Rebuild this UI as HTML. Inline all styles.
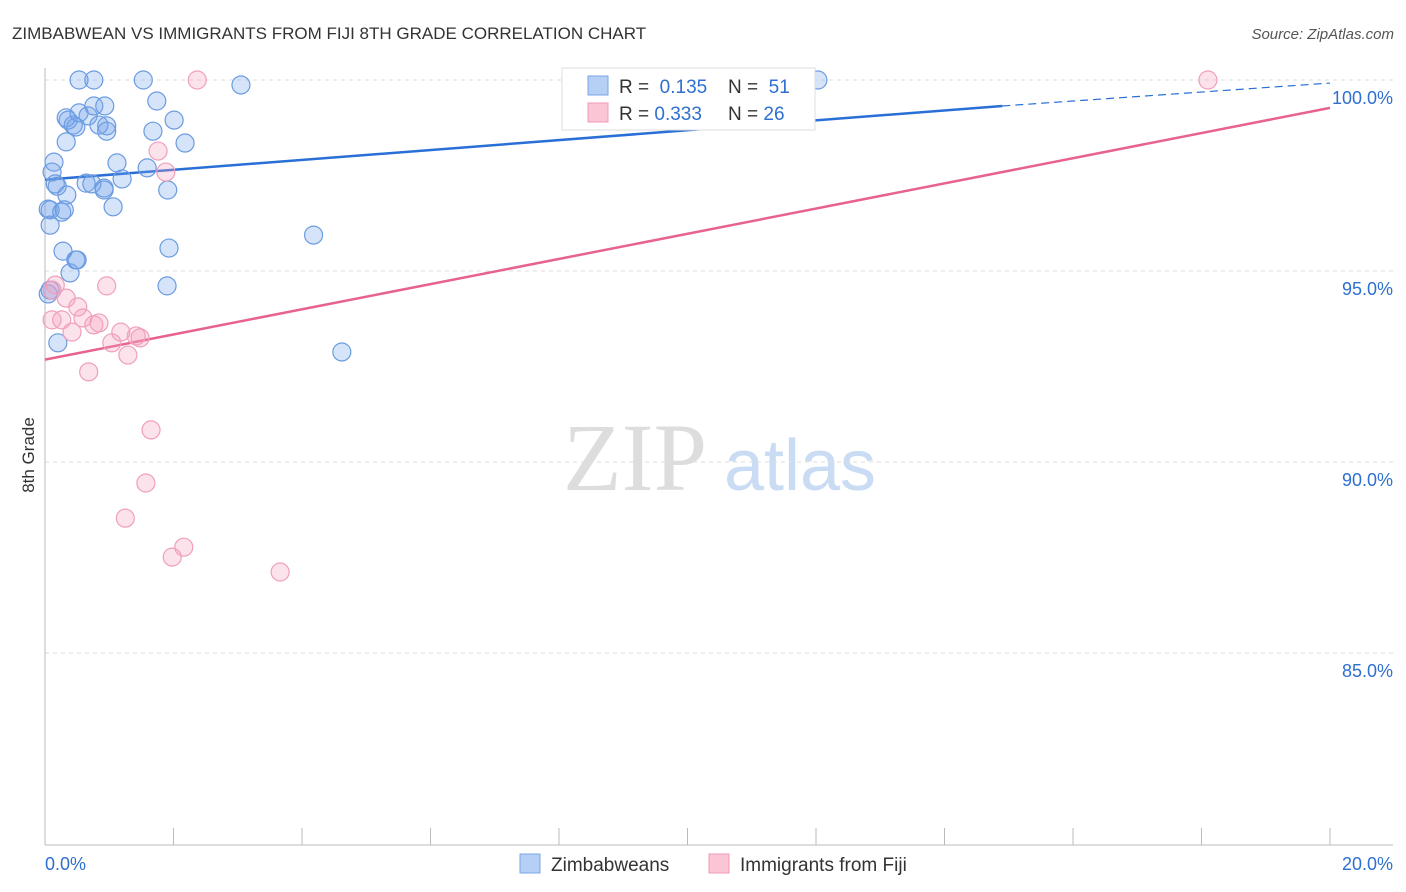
<!DOCTYPE html>
<html><head><meta charset="utf-8"><style>
body{margin:0;background:#fff;font-family:"Liberation Sans",sans-serif;}
svg{display:block}
</style></head><body>
<svg id="chart" width="1406" height="892" xmlns="http://www.w3.org/2000/svg">
<text x="12" y="39" font-size="17" fill="#333">ZIMBABWEAN VS IMMIGRANTS FROM FIJI 8TH GRADE CORRELATION CHART</text>
<text x="1394" y="39" font-size="15" fill="#555" font-style="italic" text-anchor="end">Source: ZipAtlas.com</text>
<g>
<text x="635" y="490" font-size="96" fill="#ddd" font-family="Liberation Serif,serif" text-anchor="middle">ZIP</text>
<text x="800" y="490" font-size="72" fill="#c9dcf3" text-anchor="middle">atlas</text>
</g>
<g id="grid"></g>
<g id="axes"></g>
<g id="lines"></g>
<g id="points"></g>
<text transform="translate(34,455) rotate(-90)" font-size="17" fill="#333" text-anchor="middle">8th Grade</text>
<g>
<rect x="562" y="68" width="253" height="62" fill="#fff" stroke="#ddd"/>
<rect x="588" y="76" width="20" height="19" fill="#b6d0f5" stroke="#7aa6e6"/>
<rect x="588" y="103" width="20" height="19" fill="#fbc5d5" stroke="#f09ab6"/>
<text x="619" y="93" font-size="19" fill="#333">R = <tspan fill="#2e6fd0">&#160;0.135</tspan></text>
<text x="728" y="93" font-size="19" fill="#333">N = <tspan fill="#2e6fd0">&#160;51</tspan></text>
<text x="619" y="120" font-size="19" fill="#333">R = <tspan fill="#2e6fd0">0.333</tspan></text>
<text x="728" y="120" font-size="19" fill="#333">N = <tspan fill="#2e6fd0">26</tspan></text>
</g>
<g>
<rect x="520" y="854" width="20" height="19" fill="#b6d0f5" stroke="#7aa6e6"/>
<text x="551" y="871" font-size="19" fill="#333">Zimbabweans</text>
<rect x="709" y="854" width="20" height="19" fill="#fbc5d5" stroke="#f09ab6"/>
<text x="740" y="871" font-size="19" fill="#333">Immigrants from Fiji</text>
</g>
</svg>
<script>
const yTicks=[100,95,90,85];
const yTickLabels=["100.0%","95.0%","90.0%","85.0%"];
const xTickLabels=["0.0%","20.0%"];
const blueX=[0.53,0.76,1.53,3.05,12.03,1.74,0.33,0.36,0.44,0.48,0.53,0.67,0.76,0.93,0.96,0.84,0.96,1.68,2.01,2.18,0.33,0.14,1.12,1.59,0.11,0.16,0.19,0.34,0.64,0.73,0.92,1.20,1.06,1.91,0.05,0.08,0.26,0.30,0.08,0.28,0.39,0.48,0.50,1.93,4.18,0.20,1.90,0.08,4.62,0.05,0.92];
const blueY=[100.0,100.0,100.0,99.87,100.0,99.45,99.01,98.95,98.82,98.77,99.14,99.06,99.32,99.32,98.80,98.82,98.66,98.66,98.95,98.35,98.38,97.85,97.83,97.70,97.59,97.28,97.22,96.99,97.30,97.28,97.17,97.41,96.68,97.12,96.62,96.60,96.54,96.60,96.20,95.52,94.95,95.29,95.29,95.60,95.94,93.12,94.61,94.50,92.88,94.40,97.12];
const pinkX=[2.37,18.10,1.76,1.88,0.11,0.16,0.33,0.51,0.59,0.26,0.11,0.42,0.76,0.84,0.96,1.18,1.42,1.48,1.04,1.29,0.68,1.65,1.57,1.25,2.16,1.98,3.66];
const pinkY=[100.0,100.0,98.14,97.59,94.50,94.63,94.29,94.06,93.77,93.72,93.72,93.40,93.59,93.64,94.61,93.40,93.30,93.25,93.12,92.80,92.36,90.84,89.45,88.53,87.77,87.51,87.12];
const blueTrend=[97.39,99.32,99.92]; // at x=0, 14.9, 20
const blueTrendX=[0,14.9,20];
const pinkTrend=[92.68,99.27];
const pinkTrendX=[0,20];
const NS="http://www.w3.org/2000/svg";
const X0=45,X1=1330,Y100=80,PX_PER=38.2;
const sx=v=>X0+(v/20)*(X1-X0);
const sy=v=>Y100+(100-v)*PX_PER;
function mk(tag,attrs,parent){const e=document.createElementNS(NS,tag);for(const k in attrs)e.setAttribute(k,attrs[k]);parent.appendChild(e);return e;}
const grid=document.getElementById('grid'),axes=document.getElementById('axes'),lines=document.getElementById('lines'),pts=document.getElementById('points');
yTicks.forEach((t,i)=>{
 const l=mk('line',{x1:X0,x2:1393,y1:sy(t),y2:sy(t),stroke:'#ddd','stroke-dasharray':'4,4'},grid);
 
 
 const tx=mk('text',{x:1393,y:sy(t)+24,'font-size':18,fill:'#2e6fd0','text-anchor':'end'},grid);
 tx.textContent=yTickLabels[i];
 
 
});
const ax=mk('line',{x1:X0,x2:1393,y1:845,y2:845,stroke:'#bbb'},axes);


const ay=mk('line',{x1:X0,x2:X0,y1:68,y2:845,stroke:'#bbb'},axes);


for(let i=0;i<=10;i++){
 const t=mk('line',{x1:sx(i*2),x2:sx(i*2),y1:828,y2:845,stroke:'#bbb'},axes);
 
 
}
[[0,'start',45],[20,'end',1393]].forEach((d,i)=>{
 const tx=mk('text',{x:d[2],y:870,'font-size':18,fill:'#2e6fd0','text-anchor':d[1]},axes);
 tx.textContent=xTickLabels[i];
 
 
});
function dot(x,y,fill,stroke,name){
 const c=mk('circle',{cx:sx(x),cy:sy(y),r:9,fill:fill,stroke:stroke,'stroke-width':1.2},pts);
 
 
}
blueX.forEach((x,i)=>dot(x,blueY[i],'rgba(120,165,235,0.3)','#6b9be0','point-zimbabweans'));
pinkX.forEach((x,i)=>dot(x,pinkY[i],'rgba(245,160,190,0.3)','#ef9fbc','point-fiji'));
const b1=mk('line',{x1:sx(blueTrendX[0]),y1:sy(blueTrend[0]),x2:sx(blueTrendX[1]),y2:sy(blueTrend[1]),stroke:'#2a6fd6','stroke-width':2.5},lines);


const b2=mk('line',{x1:sx(blueTrendX[1]),y1:sy(blueTrend[1]),x2:sx(blueTrendX[2]),y2:sy(blueTrend[2]),stroke:'#2a6fd6','stroke-width':1.2,'stroke-dasharray':'8,5'},lines);


const p1=mk('line',{x1:sx(pinkTrendX[0]),y1:sy(pinkTrend[0]),x2:sx(pinkTrendX[1]),y2:sy(pinkTrend[1]),stroke:'#e8628f','stroke-width':2.5},lines);


</script>
</body></html>
